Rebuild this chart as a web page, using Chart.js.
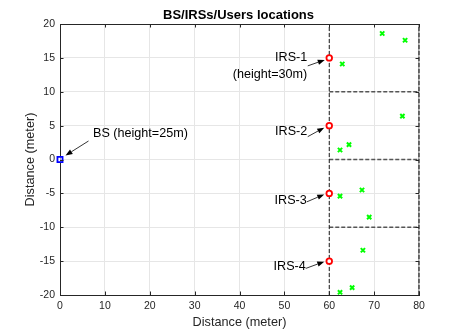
<!DOCTYPE html>
<html>
<head>
<meta charset="utf-8">
<script src="https://cdn.jsdelivr.net/npm/chart.js@4/dist/chart.umd.min.js"></script>
<style>
  html, body { margin: 0; padding: 0; background: #fff; }
  #wrap { width: 463px; height: 331px; }
</style>
</head>
<body>
<div id="wrap"><canvas id="locChart" width="463" height="331"></canvas></div>
<script>
// axis ticks
const xTicks = [0, 10, 20, 30, 40, 50, 60, 70, 80];
const yTicks = [-20, -15, -10, -5, 0, 5, 10, 15, 20];

// base station
const bsX = [0];
const bsY = [0];

// IRS positions
const irsX = [60, 60, 60, 60];
const irsY = [15, 5, -5, -15];

// users
const userX = [71.8, 76.9, 62.9, 76.3, 64.4, 62.4, 67.3, 62.4, 68.9, 67.5, 65.1, 62.4];
const userY = [18.6, 17.6, 14.1, 6.4, 2.2, 1.4, -4.5, -5.4, -8.5, -13.4, -18.9, -19.6];

// dashed region boundaries
const vBoundX = [60, 80];
const hBoundY = [10, 0, -10];

const FONT = "'Liberation Sans', Arial, Helvetica, sans-serif";
const AXIS_COLOR = '#262626';

function toPoints(xs, ys) {
  return xs.map((v, i) => ({ x: v, y: ys[i] }));
}

const boundaryDatasets = [];
vBoundX.forEach(v => {
  boundaryDatasets.push({
    type: 'line',
    data: [{ x: v, y: yTicks[0] }, { x: v, y: yTicks[yTicks.length - 1] }],
    borderColor: '#1a1a1a',
    borderWidth: 1,
    borderDash: [4, 2],
    pointRadius: 0,
    clip: false,
    order: 5
  });
});
hBoundY.forEach(v => {
  boundaryDatasets.push({
    type: 'line',
    data: [{ x: vBoundX[0], y: v }, { x: vBoundX[1], y: v }],
    borderColor: '#555',
    borderWidth: 1.3,
    borderDash: [4, 2],
    pointRadius: 0,
    clip: false,
    order: 5
  });
});

// text + arrows, offsets in pixels from the point they describe
const notes = [
  { lines: ['BS (height=25m)'], px: bsX[0], py: bsY[0], align: 'left', text: [33, -26], tail: [28.5, -18.5], head: [5.5, -4] },
  { lines: ['IRS-1', '(height=30m)'], px: irsX[0], py: irsY[0], align: 'right', text: [-22, -0.5], tail: [-21.5, 8], head: [-4.5, 2] },
  { lines: ['IRS-2'], px: irsX[1], py: irsY[1], align: 'right', text: [-22, 6.3], tail: [-21.5, 11], head: [-5, 2] },
  { lines: ['IRS-3'], px: irsX[2], py: irsY[2], align: 'right', text: [-22.5, 7], tail: [-22.5, 8.5], head: [-5, 1] },
  { lines: ['IRS-4'], px: irsX[3], py: irsY[3], align: 'right', text: [-23.5, 5], tail: [-23.5, 7.3], head: [-5, 0.5] }
];

const extras = {
  id: 'extras',
  beforeDatasetsDraw(chart) {
    const { ctx, chartArea: a } = chart;
    ctx.save();
    ctx.lineWidth = 1;
    ctx.strokeStyle = AXIS_COLOR;
    ctx.beginPath();
    ctx.moveTo(a.left, a.top + 0.5);
    ctx.lineTo(a.right, a.top + 0.5);
    ctx.stroke();
    ctx.strokeStyle = '#a8a8a8';
    ctx.lineWidth = 1.5;
    ctx.beginPath();
    ctx.moveTo(a.right - 0.25, a.top);
    ctx.lineTo(a.right - 0.25, a.bottom);
    ctx.stroke();
    ctx.restore();
  },
  afterDraw(chart) {
    const { ctx, chartArea: a, scales: { x, y } } = chart;
    ctx.save();

    // inward tick marks on all four sides
    const tl = 3.5;
    ctx.strokeStyle = AXIS_COLOR;
    ctx.lineWidth = 1;
    ctx.beginPath();
    xTicks.forEach(t => {
      const px = Math.round(x.getPixelForValue(t)) + 0.5;
      ctx.moveTo(px, a.bottom); ctx.lineTo(px, a.bottom - tl);
      ctx.moveTo(px, a.top); ctx.lineTo(px, a.top + tl);
    });
    yTicks.forEach(t => {
      const py = Math.round(y.getPixelForValue(t)) + 0.5;
      ctx.moveTo(a.left, py); ctx.lineTo(a.left + tl, py);
      ctx.moveTo(a.right, py); ctx.lineTo(a.right - tl, py);
    });
    ctx.stroke();

    // title
    ctx.fillStyle = '#000';
    ctx.font = 'bold 13px ' + FONT;
    ctx.textAlign = 'center';
    ctx.textBaseline = 'middle';
    ctx.fillText('BS/IRSs/Users locations', (a.left + a.right) / 2 - 1, 15);

    // axis titles
    ctx.fillStyle = AXIS_COLOR;
    ctx.font = '12.7px ' + FONT;
    ctx.fillText('Distance (meter)', (a.left + a.right) / 2, 322.5);
    ctx.save();
    ctx.translate(30.5, (a.top + a.bottom) / 2);
    ctx.rotate(-Math.PI / 2);
    ctx.fillText('Distance (meter)', 0, 0);
    ctx.restore();

    // annotations
    ctx.font = '12.6px ' + FONT;
    ctx.fillStyle = '#000';
    ctx.strokeStyle = '#000';
    notes.forEach(n => {
      const cx = x.getPixelForValue(n.px);
      const cy = y.getPixelForValue(n.py);
      ctx.textAlign = n.align;
      ctx.textBaseline = 'middle';
      n.lines.forEach((s, i) => {
        ctx.fillText(s, cx + n.text[0], cy + n.text[1] + i * 17);
      });
      const tx = cx + n.tail[0], ty = cy + n.tail[1];
      const hx = cx + n.head[0], hy = cy + n.head[1];
      const ang = Math.atan2(hy - ty, hx - tx);
      const len = 7, half = 2.6;
      const bx = hx - len * Math.cos(ang), by = hy - len * Math.sin(ang);
      ctx.lineWidth = 0.8;
      ctx.beginPath();
      ctx.moveTo(tx, ty);
      ctx.lineTo(bx, by);
      ctx.stroke();
      ctx.beginPath();
      ctx.moveTo(hx, hy);
      ctx.lineTo(bx - half * Math.sin(ang), by + half * Math.cos(ang));
      ctx.lineTo(bx + half * Math.sin(ang), by - half * Math.cos(ang));
      ctx.closePath();
      ctx.fill();
    });
    ctx.restore();
  }
};

new Chart(document.getElementById('locChart'), {
  type: 'scatter',
  data: {
    datasets: [
      {
        label: 'BS',
        data: toPoints(bsX, bsY),
        pointStyle: 'rect',
        pointRadius: 3.6,
        borderColor: '#0000ff',
        backgroundColor: 'rgba(255,255,255,0.6)',
        borderWidth: 1.8,
        clip: false,
        order: 1
      },
      {
        label: 'IRS',
        data: toPoints(irsX, irsY),
        pointStyle: 'circle',
        pointRadius: 2.8,
        borderColor: '#ff0000',
        backgroundColor: '#ffffff',
        borderWidth: 1.8,
        clip: false,
        order: 1
      },
      {
        label: 'Users',
        data: toPoints(userX, userY),
        pointStyle: 'crossRot',
        pointRadius: 3,
        borderColor: '#00ff00',
        borderWidth: 2,
        clip: false,
        order: 1
      },
      ...boundaryDatasets
    ]
  },
  options: {
    responsive: false,
    animation: false,
    events: [],
    layout: { padding: { left: 0, right: 44, top: 24, bottom: 0 } },
    plugins: {
      legend: { display: false },
      title: { display: false },
      tooltip: { enabled: false }
    },
    scales: {
      x: {
        type: 'linear',
        min: xTicks[0],
        max: xTicks[xTicks.length - 1],
        afterBuildTicks: s => { s.ticks = xTicks.map(v => ({ value: v })); },
        afterFit: s => { s.height = 36; },
        ticks: {
          color: AXIS_COLOR,
          font: { family: FONT, size: 10.5 },
          padding: 5,
          maxRotation: 0
        },
        grid: { color: '#e6e6e6', drawTicks: false },
        border: { color: AXIS_COLOR, width: 1 }
      },
      y: {
        type: 'linear',
        min: yTicks[0],
        max: yTicks[yTicks.length - 1],
        afterBuildTicks: s => { s.ticks = yTicks.map(v => ({ value: v })); },
        afterFit: s => { s.width = 60; },
        ticks: {
          color: AXIS_COLOR,
          font: { family: FONT, size: 10.5 },
          padding: 5
        },
        grid: { color: '#e6e6e6', drawTicks: false },
        border: { color: AXIS_COLOR, width: 1 }
      }
    }
  },
  plugins: [extras]
});
</script>
</body>
</html>
